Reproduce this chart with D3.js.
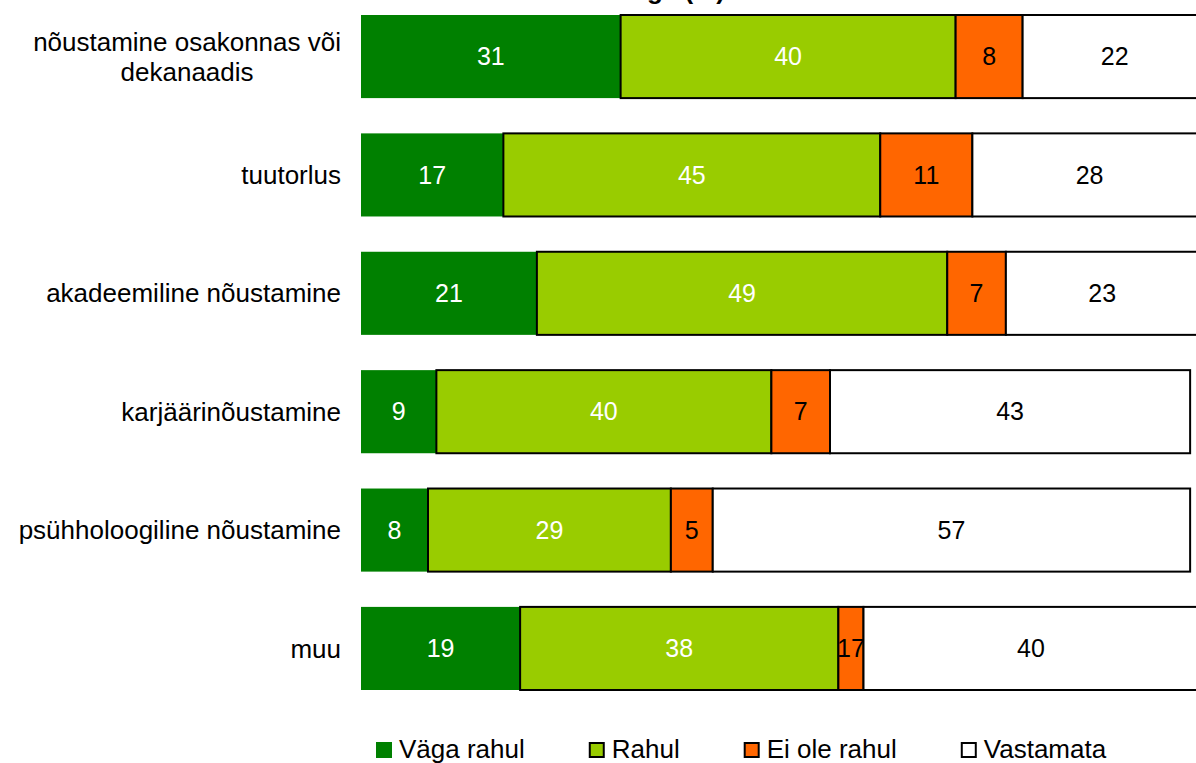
<!DOCTYPE html>
<html>
<head>
<meta charset="utf-8">
<script src="https://cdn.jsdelivr.net/npm/d3@7"></script>
<style>
html,body{margin:0;padding:0;background:#fff;}
svg{display:block;font-family:"Liberation Sans",Arial,sans-serif;}
</style>
</head>
<body>
<svg id="chart" width="1196" height="763"></svg>
<script>
// ---- data ----
const categories = [
  "nõustamine osakonnas või dekanaadis",
  "tuutorlus",
  "akadeemiline nõustamine",
  "karjäärinõustamine",
  "psühholoogiline nõustamine",
  "muu"
];
const categoryLines = [
  ["nõustamine osakonnas või", "dekanaadis"],
  ["tuutorlus"],
  ["akadeemiline nõustamine"],
  ["karjäärinõustamine"],
  ["psühholoogiline nõustamine"],
  ["muu"]
];
const seriesNames = ["Väga rahul", "Rahul", "Ei ole rahul", "Vastamata"];
const vagaRahul  = [31, 17, 21,  9,  8, 19];
const rahul      = [40, 45, 49, 40, 29, 38];
const eiOleRahul = [ 8, 11,  7,  7,  5,  3];
const vastamata  = [22, 28, 23, 43, 57, 40];
// data labels as printed in the source chart (one differs from the drawn width)
const eiOleRahulLabels = ["8", "11", "7", "7", "5", "17"];
const titleText = "Rahulolu nõustamisega (%)";

// ---- styles ----
const colors = ["#008000", "#99CC00", "#FF6600", "#FFFFFF"];
const strokes = ["none", "#000", "#000", "#000"];
const labelColors = ["#fff", "#fff", "#000", "#000"];

const seriesValues = [vagaRahul, rahul, eiOleRahul, vastamata];
const seriesLabels = [vagaRahul.map(String), rahul.map(String), eiOleRahulLabels, vastamata.map(String)];

const svg = d3.select("#chart");

const x = d3.scaleLinear().domain([0, 100]).range([361, 1198.5]);
const y = d3.scaleBand().domain(categories).range([15, 690]).paddingInner(0.298).paddingOuter(0);

// stacked data
const rows = categories.map((c, i) => {
  const r = {cat: c};
  seriesNames.forEach((s, k) => r[s] = seriesValues[k][i]);
  return r;
});
const stack = d3.stack().keys(seriesNames)(rows);

const g = svg.append("g");
stack.forEach((layer, k) => {
  const lg = g.append("g");
  lg.selectAll("rect").data(layer).enter().append("rect")
    .attr("x", d => x(d[0]))
    .attr("y", d => y(d.data.cat))
    .attr("width", d => x(d[1]) - x(d[0]))
    .attr("height", y.bandwidth())
    .attr("fill", colors[k])
    .attr("stroke", strokes[k])
    .attr("stroke-width", 2);
  lg.selectAll("text").data(layer).enter().append("text")
    .attr("x", d => (x(d[0]) + x(d[1])) / 2)
    .attr("y", d => y(d.data.cat) + y.bandwidth() / 2)
    .attr("dy", "0.35em")
    .attr("text-anchor", "middle")
    .attr("font-size", 25)
    .attr("fill", labelColors[k])
    .text((d, i) => seriesLabels[k][i]);
});

// category labels
const catG = svg.append("g");
categories.forEach((c, i) => {
  const lines = categoryLines[i];
  const cy = y(c) + y.bandwidth() / 2;
  const lh = 30;
  if (lines.length === 1) {
    catG.append("text")
      .attr("x", 341).attr("y", cy).attr("dy", "0.35em")
      .attr("text-anchor", "end").attr("font-size", 26).attr("fill", "#000")
      .text(lines[0]);
  } else {
    const t = catG.append("text").attr("font-size", 26).attr("fill", "#000")
      .attr("text-anchor", "middle");
    const tmp = t.append("tspan").text(lines[0]);
    const w = tmp.node().getComputedTextLength();
    tmp.remove();
    const center = 341 - w / 2;
    lines.forEach((ln, j) => {
      t.append("tspan").attr("x", center)
        .attr("y", cy + (j - (lines.length - 1) / 2) * lh)
        .attr("dy", "0.35em").text(ln);
    });
  }
});

// title (mostly above the visible area, as in the source crop)
svg.append("text").attr("x", 725).attr("y", -1)
  .attr("text-anchor", "end")
  .attr("font-size", 26).attr("font-weight", "bold").attr("fill", "#000")
  .text(titleText);

// legend
const leg = svg.append("g");
let lx = 376;
seriesNames.forEach((s, k) => {
  leg.append("rect").attr("x", lx + 1).attr("y", 743).attr("width", 14).attr("height", 14)
    .attr("fill", colors[k]).attr("stroke", k === 0 ? colors[0] : "#000").attr("stroke-width", 2);
  const t = leg.append("text").attr("x", lx + 23).attr("y", 758)
    .attr("font-size", 26).attr("fill", "#000").text(s);
  lx = lx + 23 + t.node().getComputedTextLength() + 64;
});
</script>
</body>
</html>
